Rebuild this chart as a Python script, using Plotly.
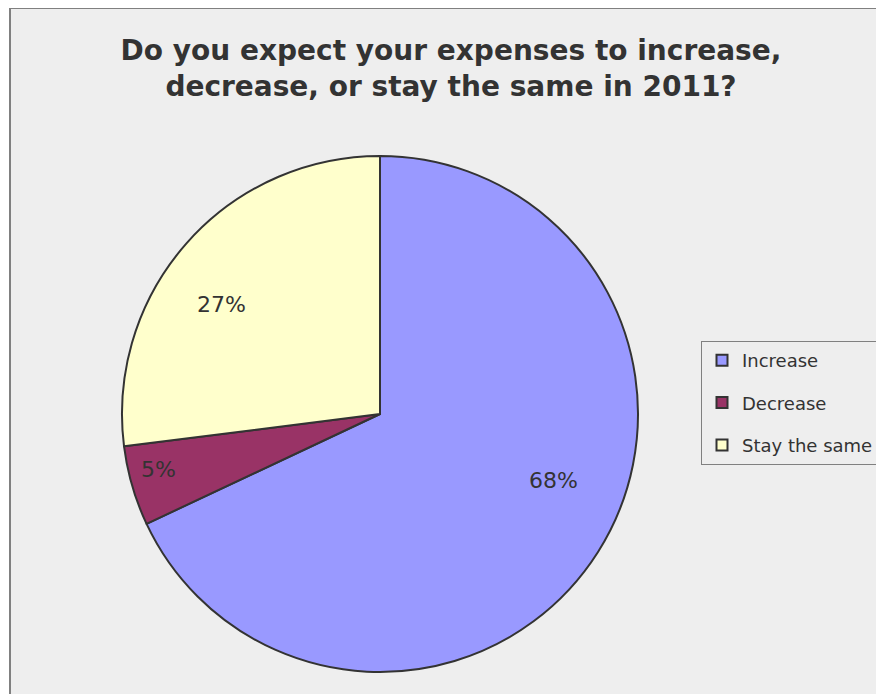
import plotly.graph_objects as go

labels = ["Increase", "Decrease", "Stay the same"]
values = [68, 5, 27]
colors = ["#9999FF", "#993366", "#FFFFCC"]
label_text = ["68%", "5%", "27%"]

# Page has an 8px body margin, so the figure is 876x686 placed at (8, 8)
W, H = 876, 686
OFF = 8
def px(x):
    return (x - OFF) / W
def py(y):
    return 1 - (y - OFF) / H

# label anchor points (reference pixel positions)
label_px = [(553, 481), (158, 469), (221, 305)]

fig = go.Figure()

fig.add_trace(go.Pie(
    labels=labels, values=values, sort=False, direction="clockwise", rotation=0,
    marker=dict(colors=colors, line=dict(color="#333333", width=2)),
    textinfo="none", showlegend=False, hoverinfo="label+percent",
    domain=dict(x=[px(122), px(638)], y=[py(672), py(156)]),
))

for i, lab in enumerate(labels):
    fig.add_trace(go.Scatter(
        x=[None], y=[None], mode="markers", name=lab, legendgroup=lab,
        marker=dict(symbol="square", size=11, color=colors[i], line=dict(color="#333333", width=2)),
    ))

for t, (x, y) in zip(label_text, label_px):
    fig.add_annotation(x=px(x), y=py(y), xref="paper", yref="paper", text=t, showarrow=False,
                       xanchor="center", yanchor="middle",
                       font=dict(family="DejaVu Sans", size=22, color="#333333"))

fig.add_shape(type="rect", xref="paper", yref="paper", x0=px(10), y0=-0.05, x1=1.05, y1=1.0,
              fillcolor="#EEEEEE", line=dict(color="#808080", width=2), layer="below")

fig.update_layout(
    width=W, height=H, margin=dict(l=0, r=0, t=0, b=0),
    paper_bgcolor="#FFFFFF", plot_bgcolor="rgba(0,0,0,0)",
    title=dict(text="Do you expect your expenses to increase,<br>decrease, or stay the same in 2011?",
               x=px(451), xanchor="center", y=py(60), yanchor="middle",
               font=dict(family="DejaVu Sans", size=28, color="#333333", weight="bold")),
    xaxis=dict(visible=False), yaxis=dict(visible=False),
    legend=dict(x=px(701), y=py(341), xanchor="left", yanchor="top",
                bgcolor="#EEEEEE", bordercolor="#808080", borderwidth=1,
                font=dict(family="DejaVu Sans", size=18, color="#333333"),
                tracegroupgap=16, traceorder="grouped", itemwidth=30),
)

fig.write_html("out.html")
